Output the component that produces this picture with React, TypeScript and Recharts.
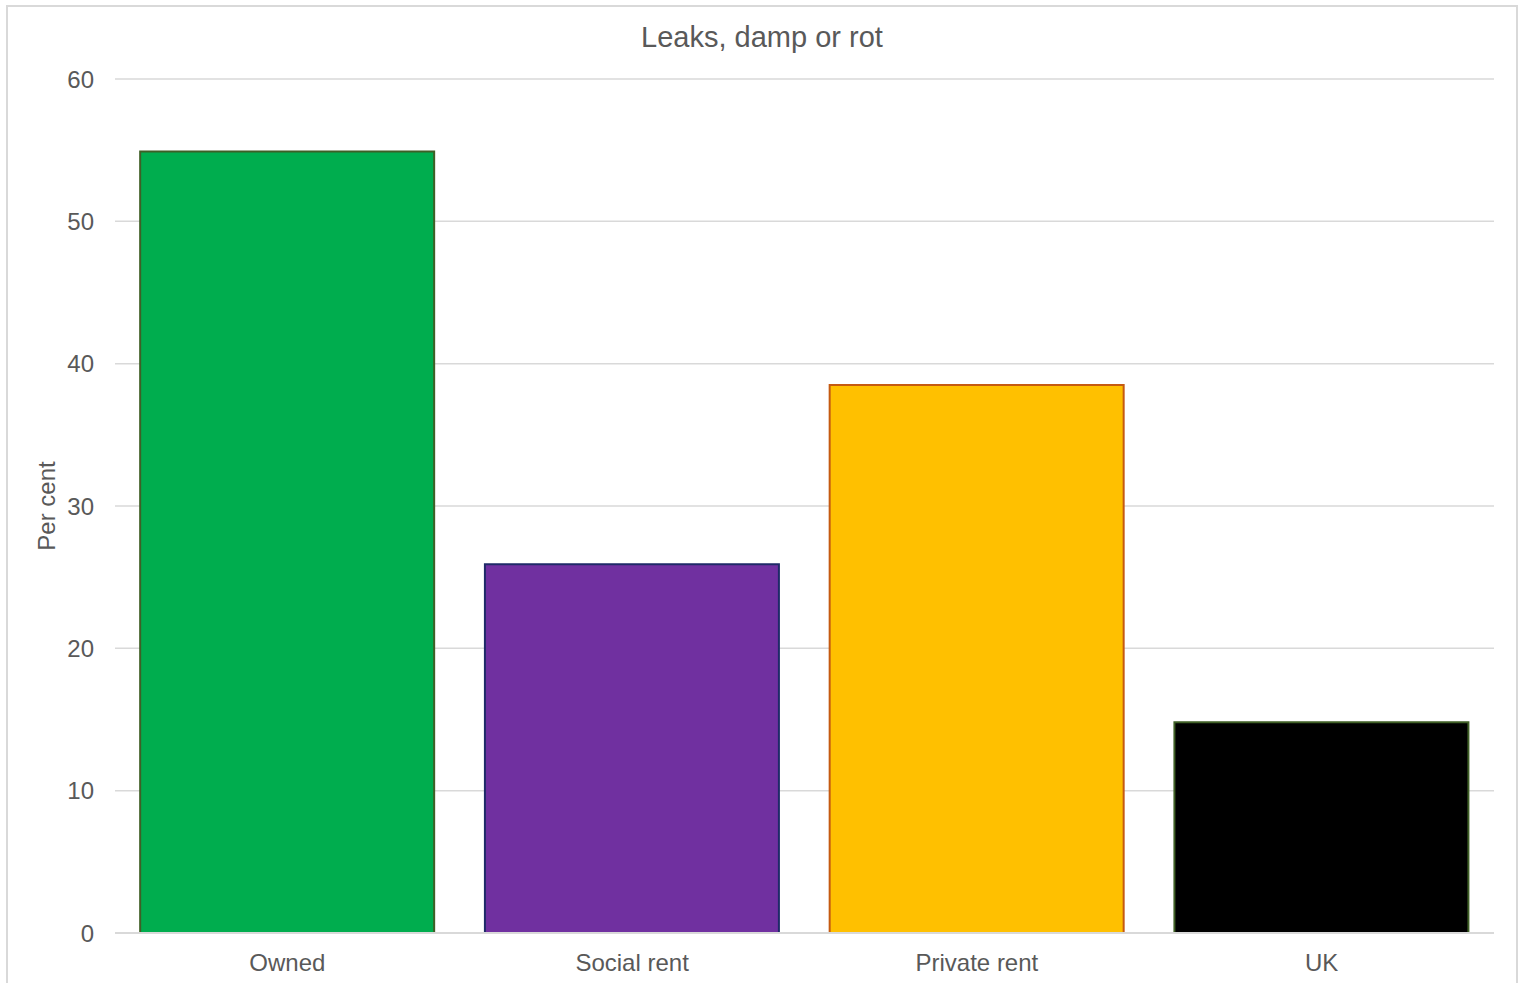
import React from 'react';
import { BarChart, Bar, XAxis, YAxis, CartesianGrid, Cell } from 'recharts';

const categories = ['Owned', 'Social rent', 'Private rent', 'UK'];
const values = [54.9, 25.9, 38.5, 14.8];
const yTicks = [0, 10, 20, 30, 40, 50, 60];
const fills = ['#00ad4e', '#7030a0', '#ffc000', '#000000'];
const strokes = ['#3f5f26', '#1f2a68', '#c55a11', '#3f5f26'];

const data = categories.map((c, i) => ({ name: c, value: values[i] }));

const FONT = '"Liberation Sans", Arial, sans-serif';
const TEXT = '#595959';

const PerCentLabel = (props: any) => {
  const vb = props.viewBox || {};
  const cx = 40;
  const cy = (vb.y || 0) + (vb.height || 0) / 2;
  return (
    <text
      x={cx}
      y={cy}
      transform={`rotate(-90, ${cx}, ${cy})`}
      textAnchor="middle"
      dominantBaseline="central"
      fill={TEXT}
      fontSize={24}
      fontFamily={FONT}
    >
      Per cent
    </text>
  );
};

export default function App() {
  return (
    <div style={{ position: 'absolute', left: 0, top: 0, width: 1523, height: 983, overflow: 'hidden', background: '#fff' }}>
      <div
        style={{
          position: 'absolute',
          left: 6,
          top: 5,
          width: 1508,
          height: 1000,
          border: '2px solid #d9d9d9',
        }}
      />
      <div
        style={{
          position: 'absolute',
          left: 6,
          top: 20,
          width: 1512,
          textAlign: 'center',
          fontFamily: FONT,
          fontSize: 29,
          lineHeight: '34px',
          color: TEXT,
        }}
      >
        Leaks, damp or rot
      </div>
      <div style={{ position: 'absolute', left: 6, top: 5 }}>
        <BarChart
          width={1512}
          height={995}
          data={data}
          margin={{ top: 74, right: 24, left: 0, bottom: 7 }}
          barCategoryGap="7.3%"
        >
          <CartesianGrid vertical={false} stroke="#d9d9d9" strokeWidth={1.5} />
          <XAxis
            dataKey="name"
            height={60}
            axisLine={{ stroke: '#d9d9d9', strokeWidth: 2 }}
            tickLine={false}
            tickSize={0}
            tickMargin={21}
            tick={{ fill: TEXT, fontSize: 24, fontFamily: FONT }}
          />
          <YAxis
            width={109}
            domain={[0, 60]}
            ticks={yTicks}
            axisLine={false}
            tickLine={false}
            tickSize={0}
            tickMargin={21}
            tick={{ fill: TEXT, fontSize: 24, fontFamily: FONT }}
            label={<PerCentLabel />}
          />
          <Bar dataKey="value" isAnimationActive={false} strokeWidth={2}>
            {data.map((d, i) => (
              <Cell key={d.name} fill={fills[i]} stroke={strokes[i]} />
            ))}
          </Bar>
        </BarChart>
      </div>
    </div>
  );
}
